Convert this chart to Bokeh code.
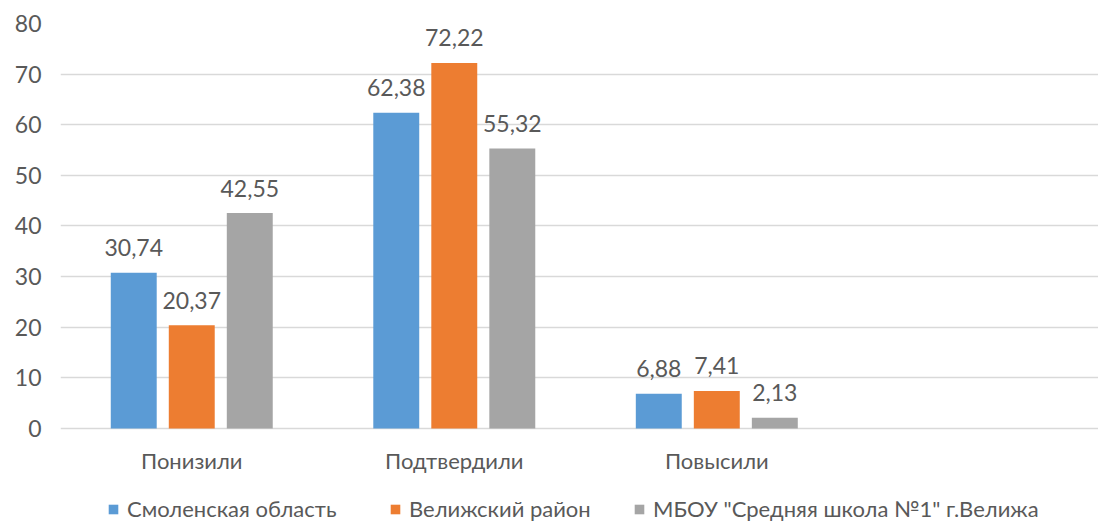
from bokeh.plotting import figure
from bokeh.models import Range1d, FixedTicker, Legend, LegendItem, ColumnDataSource
from bokeh.core.properties import value
from bokeh.embed import file_html
from bokeh.resources import INLINE

categories = ["Понизили", "Подтвердили", "Повысили"]
series_names = ["Смоленская область", "Велижский район", "МБОУ \"Средняя школа №1\" г.Велижа"]
smolensk = [30.74, 62.38, 6.88]
velizh = [20.37, 72.22, 7.41]
school = [42.55, 55.32, 2.13]
y_ticks = [0, 10, 20, 30, 40, 50, 60, 70, 80]

colors = ["#5B9BD5", "#ED7D31", "#A5A5A5"]
offsets = [-0.221, 0.0, 0.221]
legend_x = [47, 329, 573]
bar_w = 0.175
FONT = "Lato"
TXT = "#595959"

# frame extends below the zero line to hold category labels and legend
p = figure(width=1098, height=522, output_backend="svg", toolbar_location=None,
           x_range=Range1d(0, 3.954), y_range=Range1d(-18.57, 80),
           x_axis_location=None,
           min_border_left=60, min_border_right=0, min_border_top=23, min_border_bottom=0)
p.outline_line_color = None
p.background_fill_color = "white"
p.border_fill_color = "white"

for vals, name, col, off, lx in zip([smolensk, velizh, school], series_names, colors, offsets, legend_x):
    xs = [i + 0.5 + off for i in range(len(categories))]
    src = ColumnDataSource(dict(x=xs, top=vals, lab=[f"{v:.2f}".replace(".", ",") for v in vals]))
    r = p.vbar(x="x", top="top", width=bar_w, bottom=0, source=src, fill_color=col, line_color=None)
    p.text(x="x", y="top", text="lab", source=src, text_align="center", text_baseline="alphabetic",
           y_offset=-25, text_font=value(FONT), text_font_size="23px", text_color=TXT)
    lg = Legend(items=[LegendItem(label=name, renderers=[r])], location=(lx, 0),
                glyph_width=12, glyph_height=12, label_standoff=8, label_height=22,
                label_text_font=FONT, label_text_font_size="22px", label_text_color=TXT,
                border_line_color=None, background_fill_alpha=0, padding=0, margin=0)
    p.add_layout(lg, "center")

# category labels under the zero line
cat_src = ColumnDataSource(dict(x=[i + 0.5 for i in range(len(categories))],
                                y=[0] * len(categories), t=categories))
p.text(x="x", y="y", text="t", source=cat_src, text_align="center", text_baseline="middle",
       y_offset=32, text_font=value(FONT), text_font_size="22px", text_color=TXT)

# y axis
p.yaxis.ticker = FixedTicker(ticks=y_ticks)
p.yaxis.axis_line_color = None
p.yaxis.major_tick_line_color = None
p.yaxis.minor_tick_line_color = None
p.yaxis.major_label_text_font = FONT
p.yaxis.major_label_text_font_size = "23px"
p.yaxis.major_label_text_color = TXT
p.yaxis.major_label_standoff = 13

p.xgrid.grid_line_color = None
p.ygrid.ticker = FixedTicker(ticks=y_ticks)
p.ygrid.grid_line_color = "#D9D9D9"
p.ygrid.grid_line_width = 1.5

open("out.html", "w").write(file_html(p, INLINE))
